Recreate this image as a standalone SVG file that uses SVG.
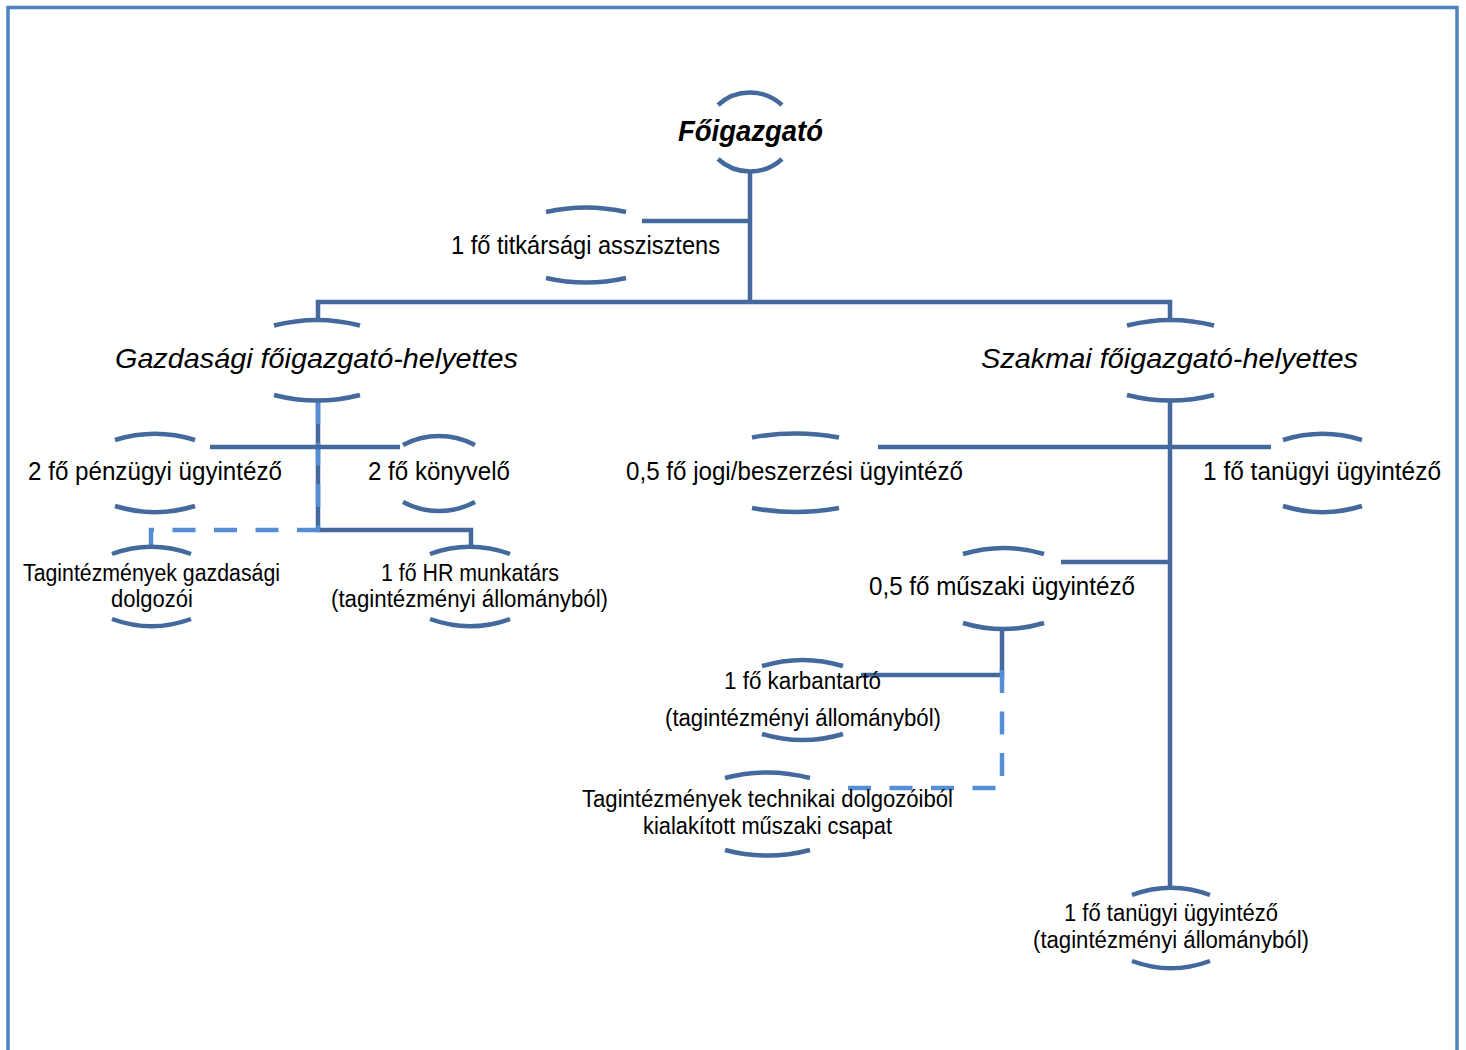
<svg xmlns="http://www.w3.org/2000/svg" width="1466" height="1050" viewBox="0 0 1466 1050">
<style>
.arc{fill:none;stroke:#44699C;stroke-width:4.5}
.ln{fill:none;stroke:#44699C;stroke-width:4.5}
.dash{fill:none;stroke:#558ED5;stroke-width:4.5;stroke-dasharray:23 18.5}
text{font-family:"Liberation Sans",Arial,sans-serif;fill:#000}
.s{font-size:25.5px}
.m{font-size:23px}
.h{font-size:28.5px;font-style:italic}
.b{font-size:29px;font-style:italic;font-weight:bold}
</style>
<rect x="0" y="0" width="1466" height="1050" fill="#fff"/>
<rect x="8" y="7.5" width="1449" height="1100" fill="none" stroke="#4F81BD" stroke-width="3.5"/>
<g id="connectors">
<path class="ln" d="M750 173V302"/>
<path class="ln" d="M642 221H750"/>
<path class="ln" d="M318 321V302H1170V321"/>
<path class="ln" d="M318 400V530H471V548"/>
<path class="dash" d="M318 401V530"/>
<path class="ln" d="M210 447H400"/>
<path class="dash" d="M320 530H151V549"/>
<path class="ln" d="M1170 400V889"/>
<path class="ln" d="M878 447H1271"/>
<path class="ln" d="M1061 562H1170"/>
<path class="ln" d="M1002 627V675H861"/>
<path class="dash" d="M1002 670V788H845"/>
</g>
<g id="n-foigazgato">
<path class="arc" d="M718 105A47.2 47.2 0 0 1 782 105"/>
<path class="arc" d="M718 159A47.2 47.2 0 0 0 782 159"/>
<text class="b" x="678" y="141" textLength="145" lengthAdjust="spacingAndGlyphs">Főigazgató</text>
</g>
<g id="n-titkarsagi">
<path class="arc" d="M546 212A180 180 0 0 1 626 212"/>
<path class="arc" d="M546 278A180 180 0 0 0 626 278"/>
<text class="s" x="451" y="254" textLength="269" lengthAdjust="spacingAndGlyphs">1 fő titkársági asszisztens</text>
</g>
<g id="n-gazdasagi">
<path class="arc" d="M274 325.5A171 171 0 0 1 360 325.5"/>
<path class="arc" d="M274 395A171 171 0 0 0 360 395"/>
<text class="h" x="115" y="368" textLength="403" lengthAdjust="spacingAndGlyphs">Gazdasági főigazgató-helyettes</text>
</g>
<g id="n-szakmai">
<path class="arc" d="M1127 325.5A175 175 0 0 1 1214 325.5"/>
<path class="arc" d="M1127 395A175 175 0 0 0 1214 395"/>
<text class="h" x="981" y="368" textLength="377" lengthAdjust="spacingAndGlyphs">Szakmai főigazgató-helyettes</text>
</g>
<g id="n-penzugyi">
<path class="arc" d="M115 440A136 136 0 0 1 195 440"/>
<path class="arc" d="M115 506A136 136 0 0 0 195 506"/>
<text class="s" x="28" y="480" textLength="254" lengthAdjust="spacingAndGlyphs">2 fő pénzügyi ügyintéző</text>
</g>
<g id="n-konyvelo">
<path class="arc" d="M403 445A76.5 76.5 0 0 1 475 445"/>
<path class="arc" d="M403 502A76.5 76.5 0 0 0 475 502"/>
<text class="s" x="368" y="480" textLength="142" lengthAdjust="spacingAndGlyphs">2 fő könyvelő</text>
</g>
<g id="n-jogi">
<path class="arc" d="M752 437.5A238 238 0 0 1 839 437.5"/>
<path class="arc" d="M752 508A238 238 0 0 0 839 508"/>
<text class="s" x="626" y="480" textLength="337" lengthAdjust="spacingAndGlyphs">0,5 fő jogi/beszerzési ügyintéző</text>
</g>
<g id="n-tanugyi1">
<path class="arc" d="M1283 440A133 133 0 0 1 1362 440"/>
<path class="arc" d="M1283 506A133 133 0 0 0 1362 506"/>
<text class="s" x="1203" y="480" textLength="238" lengthAdjust="spacingAndGlyphs">1 fő tanügyi ügyintéző</text>
</g>
<g id="n-tag-gazdasagi">
<path class="arc" d="M112 554A115 115 0 0 1 191 554"/>
<path class="arc" d="M112 619A115 115 0 0 0 191 619"/>
<text class="m" x="23" y="581" textLength="257" lengthAdjust="spacingAndGlyphs">Tagintézmények gazdasági</text>
<text class="m" x="111" y="607" textLength="82" lengthAdjust="spacingAndGlyphs">dolgozói</text>
</g>
<g id="n-hr">
<path class="arc" d="M430 554A118 118 0 0 1 510 554"/>
<path class="arc" d="M430 619A118 118 0 0 0 510 619"/>
<text class="m" x="381" y="581" textLength="178" lengthAdjust="spacingAndGlyphs">1 fő HR munkatárs</text>
<text class="m" x="331" y="607" textLength="277" lengthAdjust="spacingAndGlyphs">(tagintézményi állományból)</text>
</g>
<g id="n-muszaki">
<path class="arc" d="M963 554A140 140 0 0 1 1044 554"/>
<path class="arc" d="M963 623A140 140 0 0 0 1044 623"/>
<text class="s" x="869" y="595" textLength="266" lengthAdjust="spacingAndGlyphs">0,5 fő műszaki ügyintéző</text>
</g>
<g id="n-karbantarto">
<path class="arc" d="M762 666A140 140 0 0 1 843 666"/>
<path class="arc" d="M762 734A140 140 0 0 0 843 734"/>
<text class="m" x="724" y="689" textLength="157" lengthAdjust="spacingAndGlyphs">1 fő karbantartó</text>
<text class="m" x="665" y="726" textLength="276" lengthAdjust="spacingAndGlyphs">(tagintézményi állományból)</text>
</g>
<g id="n-technikai">
<path class="arc" d="M725 778A167 167 0 0 1 810 778"/>
<path class="arc" d="M725 850A167 167 0 0 0 810 850"/>
<text class="m" x="582" y="807" textLength="371" lengthAdjust="spacingAndGlyphs">Tagintézmények technikai dolgozóiból</text>
<text class="m" x="643" y="834" textLength="249" lengthAdjust="spacingAndGlyphs">kialakított műszaki csapat</text>
</g>
<g id="n-tanugyi2">
<path class="arc" d="M1132 895A112 112 0 0 1 1210 895"/>
<path class="arc" d="M1132 961A112 112 0 0 0 1210 961"/>
<text class="m" x="1064" y="921" textLength="214" lengthAdjust="spacingAndGlyphs">1 fő tanügyi ügyintéző</text>
<text class="m" x="1033" y="948" textLength="276" lengthAdjust="spacingAndGlyphs">(tagintézményi állományból)</text>
</g>
</svg>
